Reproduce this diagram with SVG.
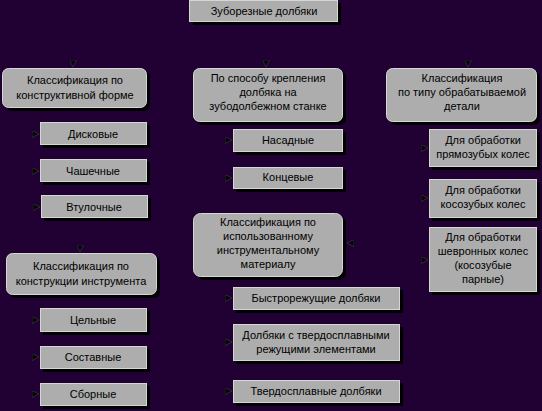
<svg xmlns="http://www.w3.org/2000/svg" width="542" height="411" viewBox="0 0 542 411">
<style>
.bg{fill:#210034}
.sh{fill:#000}
.bx{fill:#adadad;stroke:#d6d6d6;stroke-width:1}
.t{font-family:"Liberation Sans",Arial,sans-serif;font-size:11px;fill:#000;text-anchor:middle}
.c{fill:none;stroke:#25003a;stroke-width:1}
</style>
<defs>
<marker id="ah" viewBox="0 0 8 8" refX="8" refY="4" markerWidth="7" markerHeight="7" markerUnits="userSpaceOnUse" orient="auto">
<path d="M0,0 L8,4 L0,8 z" fill="#050505" stroke="#5a5a5a" stroke-width="0.5"/>
</marker>
</defs>
<rect class="bg" x="0" y="0" width="542" height="411"/>
<g id="connectors">
<path class="c" d="M266,22 V45 M73,45 H468 M73,45 V67" marker-end="url(#ah)"/>
<path class="c" d="M266,45 V67" marker-end="url(#ah)"/>
<path class="c" d="M468,45 V67" marker-end="url(#ah)"/>
<path class="c" d="M25,108 V134 H39" marker-end="url(#ah)"/>
<path class="c" d="M25,134 V171 H39" marker-end="url(#ah)"/>
<path class="c" d="M25,171 V207 H40" marker-end="url(#ah)"/>
<path class="c" d="M25,207 V235 H80 V252" marker-end="url(#ah)"/>
<path class="c" d="M25,295 V320 H39" marker-end="url(#ah)"/>
<path class="c" d="M25,320 V357 H39" marker-end="url(#ah)"/>
<path class="c" d="M25,357 V394 H39" marker-end="url(#ah)"/>
<path class="c" d="M215,122 V140 H232" marker-end="url(#ah)"/>
<path class="c" d="M215,140 V178 H232" marker-end="url(#ah)"/>
<path class="c" d="M362,22 V243 H347" marker-end="url(#ah)"/>
<path class="c" d="M215,277 V298 H232" marker-end="url(#ah)"/>
<path class="c" d="M215,298 V342 H232" marker-end="url(#ah)"/>
<path class="c" d="M215,342 V391 H232" marker-end="url(#ah)"/>
<path class="c" d="M410,122 V148 H428" marker-end="url(#ah)"/>
<path class="c" d="M410,148 V198 H428" marker-end="url(#ah)"/>
<path class="c" d="M410,198 V260 H428" marker-end="url(#ah)"/>
</g>
<g id="root">
<rect class="sh" x="193" y="3" width="148" height="22"/>
<rect class="bx" x="189.5" y="0.5" width="148" height="21"/>
<text class="t" x="264" y="15">Зуборезные долбяки</text>
</g>
<g id="constr-form">
<rect class="sh" x="6" y="71" width="144" height="40" rx="6"/>
<rect class="bx" x="2.5" y="68.5" width="144" height="39" rx="6"/>
<text class="t" x="75" y="84">Классификация по</text>
<text class="t" x="75" y="99">конструктивной форме</text>
</g>
<g id="mount">
<rect class="sh" x="197" y="71" width="149" height="54" rx="6"/>
<rect class="bx" x="193.5" y="68.5" width="149" height="53" rx="6"/>
<text class="t" x="268" y="82">По способу крепления</text>
<text class="t" x="268" y="96">долбяка на</text>
<text class="t" x="268" y="110">зубодолбежном станке</text>
</g>
<g id="part-type">
<rect class="sh" x="390" y="71" width="150" height="54" rx="6"/>
<rect class="bx" x="386.5" y="68.5" width="150" height="53" rx="6"/>
<text class="t" x="462" y="82">Классификация</text>
<text class="t" x="462" y="96">по типу обрабатываемой</text>
<text class="t" x="462" y="110">детали</text>
</g>
<g id="disk">
<rect class="sh" x="43" y="125" width="107" height="23"/>
<rect class="bx" x="40.5" y="122.5" width="106" height="22"/>
<text class="t" x="93" y="138">Дисковые</text>
</g>
<g id="cup">
<rect class="sh" x="43" y="162" width="107" height="23"/>
<rect class="bx" x="40.5" y="159.5" width="106" height="22"/>
<text class="t" x="93" y="175">Чашечные</text>
</g>
<g id="sleeve">
<rect class="sh" x="44" y="198" width="107" height="23"/>
<rect class="bx" x="41.5" y="195.5" width="106" height="22"/>
<text class="t" x="94" y="211">Втулочные</text>
</g>
<g id="tool-constr">
<rect class="sh" x="10" y="256" width="150" height="42" rx="6"/>
<rect class="bx" x="6.5" y="253.5" width="150" height="41" rx="6"/>
<text class="t" x="81" y="270">Классификация по</text>
<text class="t" x="81" y="285">конструкции инструмента</text>
</g>
<g id="solid">
<rect class="sh" x="43" y="311" width="107" height="24"/>
<rect class="bx" x="40.5" y="308.5" width="106" height="23"/>
<text class="t" x="93" y="324">Цельные</text>
</g>
<g id="composite">
<rect class="sh" x="43" y="349" width="107" height="23"/>
<rect class="bx" x="40.5" y="346.5" width="106" height="22"/>
<text class="t" x="93" y="361">Составные</text>
</g>
<g id="assembled">
<rect class="sh" x="43" y="386" width="107" height="23"/>
<rect class="bx" x="40.5" y="383.5" width="106" height="22"/>
<text class="t" x="93" y="398">Сборные</text>
</g>
<g id="shank-less">
<rect class="sh" x="236" y="132" width="110" height="23"/>
<rect class="bx" x="233.5" y="129.5" width="109" height="22"/>
<text class="t" x="288" y="144">Насадные</text>
</g>
<g id="shank">
<rect class="sh" x="236" y="170" width="110" height="22"/>
<rect class="bx" x="233.5" y="167.5" width="109" height="21"/>
<text class="t" x="288" y="181">Концевые</text>
</g>
<g id="material">
<rect class="sh" x="197" y="216" width="149" height="64" rx="7"/>
<rect class="bx" x="193.5" y="213.5" width="149" height="63" rx="7"/>
<text class="t" x="268" y="226">Классификация по</text>
<text class="t" x="268" y="240">использованному</text>
<text class="t" x="268" y="254">инструментальному</text>
<text class="t" x="268" y="268">материалу</text>
</g>
<g id="hss">
<rect class="sh" x="236" y="290" width="167" height="23"/>
<rect class="bx" x="233.5" y="287.5" width="166" height="22"/>
<text class="t" x="316" y="302">Быстрорежущие долбяки</text>
</g>
<g id="carbide-tipped">
<rect class="sh" x="236" y="327" width="167" height="37"/>
<rect class="bx" x="233.5" y="324.5" width="166" height="36"/>
<text class="t" x="316" y="339">Долбяки с твердосплавными</text>
<text class="t" x="316" y="353">режущими элементами</text>
</g>
<g id="carbide">
<rect class="sh" x="236" y="383" width="167" height="23"/>
<rect class="bx" x="233.5" y="380.5" width="166" height="22"/>
<text class="t" x="316" y="395">Твердосплавные долбяки</text>
</g>
<g id="spur">
<rect class="sh" x="432" y="132" width="108" height="38"/>
<rect class="bx" x="429.5" y="129.5" width="107" height="37"/>
<text class="t" x="483" y="144">Для обработки</text>
<text class="t" x="483" y="158">прямозубых колес</text>
</g>
<g id="helical">
<rect class="sh" x="432" y="182" width="108" height="39"/>
<rect class="bx" x="429.5" y="179.5" width="107" height="38"/>
<text class="t" x="483" y="194">Для обработки</text>
<text class="t" x="483" y="208">косозубых колес</text>
</g>
<g id="herringbone">
<rect class="sh" x="432" y="230" width="108" height="65"/>
<rect class="bx" x="429.5" y="227.5" width="107" height="64"/>
<text class="t" x="483" y="241">Для обработки</text>
<text class="t" x="483" y="255">шевронных колес</text>
<text class="t" x="483" y="269">(косозубые</text>
<text class="t" x="483" y="283">парные)</text>
</g>
</svg>
